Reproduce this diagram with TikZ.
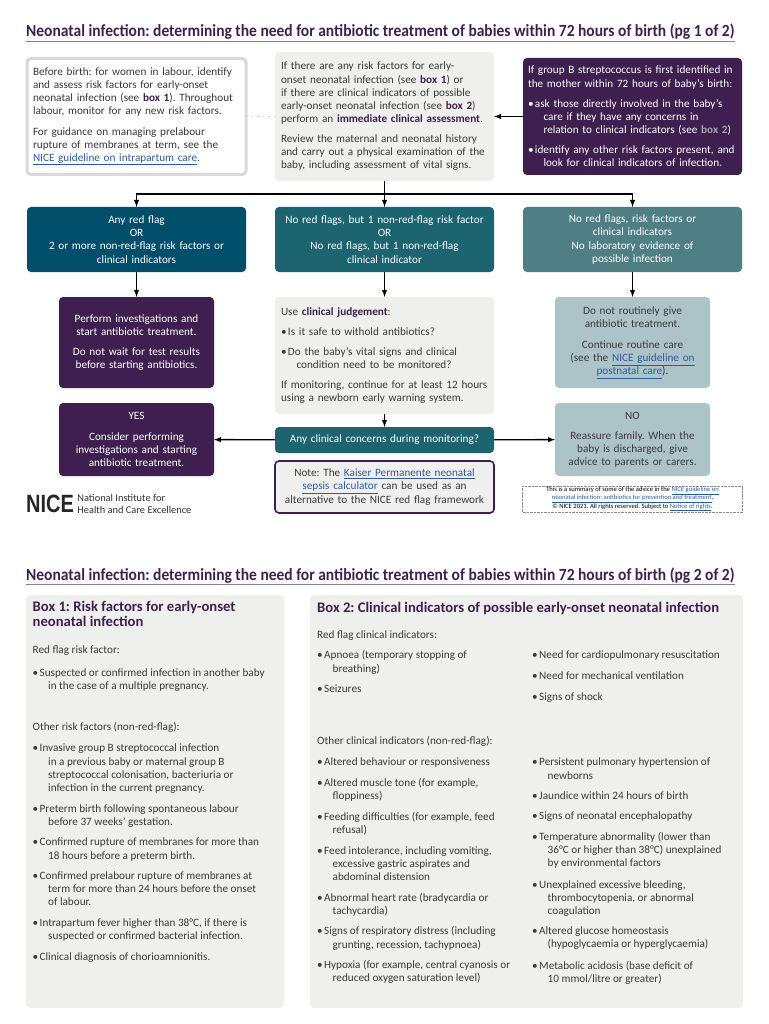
\documentclass[tikz,border=0pt]{standalone}
\usepackage{fontspec}
\setmainfont{Carlito}
\newfontfamily\squeezefont[FakeStretch=0.91]{Carlito}
\newfontfamily\logofont[FakeStretch=0.8]{Liberation Sans}
\usepackage{xcolor}
\usetikzlibrary{positioning}
\frenchspacing
\definecolor{niceplum}{HTML}{3F1F50}
\definecolor{niceink}{HTML}{3A3A3A}
\definecolor{nicegrey}{HTML}{EFEFEE}
\definecolor{nicedeep}{HTML}{004E69}
\definecolor{niceteal}{HTML}{1B6470}
\definecolor{nicesea}{HTML}{4F7E85}
\definecolor{nicepale}{HTML}{AEC3C8}
\definecolor{nicelink}{HTML}{2B5CA8}
\newcommand{\hl}[1]{\textcolor{niceplum}{\textbf{#1}}}
\newcommand{\lnk}[1]{\textcolor{nicelink}{\underline{#1}}}
\newcommand{\bul}{\makebox[7pt][l]{\textbullet}}
\newcommand{\hng}{\hspace*{15.5pt}}

\begin{document}
\begin{tikzpicture}[
  x=1pt, y=-1pt, >=latex,
  bodyfont/.style={font=\fontsize{11.2}{13.15}\selectfont},
  wide/.style={rectangle, rounded corners=4pt, minimum width=219pt, text width=207pt,
               inner xsep=6pt, inner ysep=0pt, outer sep=0pt, bodyfont},
  narrow/.style={rectangle, rounded corners=4pt, minimum width=155pt, text width=145pt,
                 inner xsep=5pt, inner ysep=0pt, outer sep=0pt, bodyfont, align=center},
  raised/.style={execute at end node={\endgraf\vskip#1}},
  title/.style={text=niceplum, inner sep=0pt, anchor=base west,
                font=\fontsize{17.05}{20}\squeezefont\bfseries},
  titlerule/.style={draw=niceplum!60, line width=1.6pt},
  panel/.style={rectangle, rounded corners=4pt, fill=nicegrey, inner sep=0pt, outer sep=0pt,
                minimum height=413pt, anchor=north west},
  heading/.style={text=niceplum, inner sep=0pt, anchor=north west, align=left,
                  font=\fontsize{14.65}{15.5}\selectfont\bfseries},
  list/.style={text=niceink, inner sep=0pt, anchor=north west, align=left, bodyfont},
  flow/.style={->, draw=black, line width=1.4pt},
]
\useasboundingbox (0,0) rectangle (768,1024);

% first page
\node[title] (titleone) at (26,37) {Neonatal infection: determining the need for antibiotic treatment of babies within 72 hours of birth (pg 1 of 2)};
\draw[titlerule] (26,41.5) -- (735,41.5);

\node[wide, raised=5pt, fill=nicegrey, text=niceink, align=left, minimum height=129pt] (assess) at (384.5,116.5)
  {If there are any risk factors for early-\\
   onset neonatal infection (see \hl{box 1}) or\\
   if there are clinical indicators of possible\\
   early-onset neonatal infection (see \hl{box 2})\\
   perform an \hl{immediate clinical assessment}.\\[7pt]
   Review the maternal and neonatal history\\
   and carry out a physical examination of the\\
   baby, including assessment of vital signs.};
\node[wide, left=29pt of assess, fill=white, draw=black!15, line width=3pt, text=niceink,
      align=left, minimum height=116pt] (before)
  {Before birth: for women in labour, identify\\
   and assess risk factors for early-onset\\
   neonatal infection (see \hl{box 1}). Throughout\\
   labour, monitor for any new risk factors.\\[7pt]
   For guidance on managing prelabour\\
   rupture of membranes at term, see the\\
   \lnk{NICE guideline on intrapartum care}.};
\node[wide, right=29pt of assess, raised=2pt, text width=209pt, inner xsep=5pt, fill=niceplum, text=white,
      align=left, minimum height=117pt] (gbs)
  {If group B streptococcus is first identified in\\
   the mother within 72 hours of baby's birth:\\[7pt]
   \bul ask those directly involved in the baby's\\
   \hng care if they have any concerns in\\
   \hng relation to clinical indicators (see \textcolor{black!35}{\textbf{box 2}})\\[7pt]
   \bul identify any other risk factors present, and\\
   \hng look for clinical indicators of infection.};

\node[wide, below=26pt of assess, fill=niceteal, text=white, align=center, minimum height=65pt] (midflag)
  {No red flags, but 1 non-red-flag risk factor\\ OR\\ No red flags, but 1 non-red-flag\\ clinical indicator};
\node[wide, left=29pt of midflag, fill=nicedeep, text=white, align=center, minimum height=65pt] (anyflag)
  {Any red flag\\ OR\\ 2 or more non-red-flag risk factors or\\ clinical indicators};
\node[wide, right=29pt of midflag, fill=nicesea, text=white, align=center, minimum height=65pt] (noflag)
  {No red flags, risk factors or\\ clinical indicators\\ No laboratory evidence of\\ possible infection};

\node[wide, below=25pt of midflag, raised=3pt, fill=nicegrey, text=niceink, align=left, minimum height=117pt] (judge)
  {Use \hl{clinical judgement}:\\[7pt]
   \bul Is it safe to withold antibiotics?\\[7pt]
   \bul Do the baby's vital signs and clinical\\
   \hng condition need to be monitored?\\[7pt]
   If monitoring, continue for at least 12 hours\\
   using a newborn early warning system.};
\node[narrow, below=25pt of anyflag, fill=niceplum, text=white, minimum height=91pt] (perform)
  {Perform investigations and\\ start antibiotic treatment.\\[7pt]
   Do not wait for test results\\ before starting antibiotics.};
\node[narrow, below=25pt of noflag, fill=nicepale, text=niceink, minimum height=91pt] (routine)
  {Do not routinely give\\ antibiotic treatment.\\[8pt]
   Continue routine care\\ (see the \lnk{NICE guideline on}\\ \lnk{postnatal care}).};

\node[wide, below=13pt of judge, fill=niceteal, text=white, align=center, minimum height=26pt] (concern)
  {Any clinical concerns during monitoring?};
\node[narrow, below=15pt of perform, fill=niceplum, text=white, minimum height=73pt] (yes)
  {YES\\[7pt] Consider performing\\ investigations and starting\\ antibiotic treatment.};
\node[narrow, below=15pt of routine, fill=nicepale, text=niceink, minimum height=73pt] (reassure)
  {NO\\[7pt] Reassure family. When the\\ baby is discharged, give\\ advice to parents or carers.};
\node[wide, below=8pt of concern, fill=nicegrey, draw=niceplum, line width=1.6pt, text=niceink,
      align=center, minimum height=52pt] (note)
  {Note: The \lnk{Kaiser Permanente neonatal}\\ \lnk{sepsis calculator} can be used as an\\ alternative to the NICE red flag framework};
\node[below=10pt of reassure, draw=black!45, densely dotted, inner sep=0pt, outer sep=0pt, minimum width=220pt,
      minimum height=26pt, align=center, text=black, font=\fontsize{6.6}{8.3}\selectfont] (summary)
  {This is a summary of some of the advice in the \lnk{NICE guideline on}\\
   \lnk{neonatal infection: antibiotics for prevention and treatment}.\\
   © NICE 2021. All rights reserved. Subject to \lnk{Notice of rights}.};

\node[anchor=west, inner sep=0pt, text=black!85, font=\fontsize{25}{26}\logofont\bfseries] (nicemark) at (26,503.5) {NICE};
\node[right=3pt of nicemark, inner sep=0pt, align=left, text=black!80, font=\fontsize{10.4}{12}\selectfont] (niceword)
  {National Institute for\\ Health and Care Excellence};

\coordinate[below=13pt of assess] (split);
\draw[flow] (gbs) -- (assess);
\draw[draw=black!18, line width=1.6pt, dash pattern=on 1.6pt off 4pt] (before) -- (assess);
\draw[flow] (assess) -- (midflag);
\draw[flow] (split) -| (anyflag);
\draw[flow] (split) -| (noflag);
\draw[flow] (anyflag) -- (perform);
\draw[flow] (midflag) -- (judge);
\draw[flow] (noflag) -- (routine);
\draw[flow] (judge) -- (concern);
\draw[flow] (concern) -- (yes);
\draw[flow] (concern) -- (reassure);

% second page
\node[title] (titletwo) at (26,580) {Neonatal infection: determining the need for antibiotic treatment of babies within 72 hours of birth (pg 2 of 2)};
\draw[titlerule] (26,584.5) -- (735,584.5);

\node[panel, minimum width=258pt] (boxone) at (26,595) {};
\node[panel, minimum width=433pt] (boxtwo) at (310,595) {};

\node[heading] (headone) at (32.5,601) {Box 1: Risk factors for early-onset\\ neonatal infection};
\node[list] (redone) at (32.5,646) {Red flag risk factor:};
\node[list] (itemsone) at (32.5,668.5)
  {\bul Suspected or confirmed infection in another baby\\
   \hng in the case of a multiple pregnancy.};
\node[list] (otherone) at (32.5,722) {Other risk factors (non-red-flag):};
\node[list] (moreone) at (32.5,744)
  {\bul Invasive group B streptococcal infection\\
   \hng in a previous baby or maternal group B\\
   \hng streptococcal colonisation, bacteriuria or\\
   \hng infection in the current pregnancy.\\[7.5pt]
   \bul Preterm birth following spontaneous labour\\
   \hng before 37 weeks' gestation.\\[7.5pt]
   \bul Confirmed rupture of membranes for more than\\
   \hng 18 hours before a preterm birth.\\[7.5pt]
   \bul Confirmed prelabour rupture of membranes at\\
   \hng term for more than 24 hours before the onset\\
   \hng of labour.\\[7.5pt]
   \bul Intrapartum fever higher than 38°C, if there is\\
   \hng suspected or confirmed bacterial infection.\\[7.5pt]
   \bul Clinical diagnosis of chorioamnionitis.};

\node[heading] (headtwo) at (317,601.5) {Box 2: Clinical indicators of possible early-onset neonatal infection};
\node[list] (redtwo) at (317,631) {Red flag clinical indicators:};
\node[list] (itemstwo) at (317,650.5)
  {\bul Apnoea (temporary stopping of\\
   \hng breathing)\\[7.5pt]
   \bul Seizures};
\node[list] (itemsthree) at (532,651)
  {\bul Need for cardiopulmonary resuscitation\\[7.5pt]
   \bul Need for mechanical ventilation\\[7.5pt]
   \bul Signs of shock};
\node[list] (othertwo) at (317,736) {Other clinical indicators (non-red-flag):};
\node[list] (moretwo) at (317,758)
  {\bul Altered behaviour or responsiveness\\[7.5pt]
   \bul Altered muscle tone (for example,\\
   \hng floppiness)\\[7.5pt]
   \bul Feeding difficulties (for example, feed\\
   \hng refusal)\\[7.5pt]
   \bul Feed intolerance, including vomiting,\\
   \hng excessive gastric aspirates and\\
   \hng abdominal distension\\[7.5pt]
   \bul Abnormal heart rate (bradycardia or\\
   \hng tachycardia)\\[7.5pt]
   \bul Signs of respiratory distress (including\\
   \hng grunting, recession, tachypnoea)\\[7.5pt]
   \bul Hypoxia (for example, central cyanosis or\\
   \hng reduced oxygen saturation level)};
\node[list] (morethree) at (532,758)
  {\bul Persistent pulmonary hypertension of\\
   \hng newborns\\[7.5pt]
   \bul Jaundice within 24 hours of birth\\[7pt]
   \bul Signs of neonatal encephalopathy\\[7pt]
   \bul Temperature abnormality (lower than\\
   \hng 36°C or higher than 38°C) unexplained\\
   \hng by environmental factors\\[8.5pt]
   \bul Unexplained excessive bleeding,\\
   \hng thrombocytopenia, or abnormal\\
   \hng coagulation\\[7pt]
   \bul Altered glucose homeostasis\\
   \hng (hypoglycaemia or hyperglycaemia)\\[8.5pt]
   \bul Metabolic acidosis (base deficit of\\
   \hng 10 mmol/litre or greater)};
\end{tikzpicture}
\end{document}
